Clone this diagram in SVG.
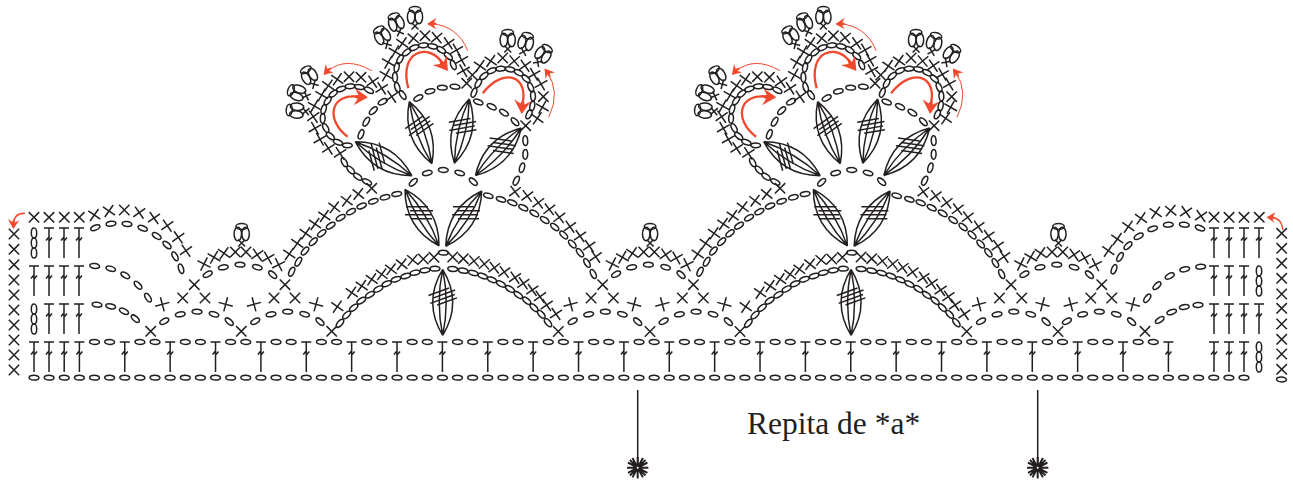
<svg xmlns="http://www.w3.org/2000/svg" width="1293" height="482" viewBox="0 0 1293 482">
<style>
.k{fill:none;stroke:#231f20;stroke-width:1.5;stroke-linecap:butt}
.r{fill:none;stroke:#f0492d;stroke-width:1}
.rt{fill:none;stroke:#f0492d;stroke-width:2.3}
.h{fill:#f0492d;stroke:none}
text{font-family:"Liberation Serif","Times New Roman",serif;font-size:31.5px;fill:#231f20}
</style>
<defs>
<ellipse id="o" rx="4.9" ry="2.4"/>
<path id="x" d="M-5.2-5.2L5.2 5.2M-5.2 5.2L5.2-5.2"/>
<path id="t" d="M-5 0H5M0 0V30M-3 12.5L-.5 9.5L.5 12.5L3 9.5"/>
<g id="v"><ellipse cy="5" rx="2.7" ry="5"/><ellipse cy="15" rx="2.7" ry="5"/><ellipse cy="25" rx="2.7" ry="5"/></g>
<g id="p"><ellipse cy="-6.5" rx="5.8" ry="3"/><ellipse cx="-3.9" cy="1" rx="3.7" ry="6.8"/><ellipse cx="3.9" cy="1" rx="3.7" ry="6.8"/><path d="M-3.5 6.5L3.5 13.5M3.5 6.5L-3.5 13.5"/></g>
<path id="leaf" d="M0 0Q33-20 66 0M0 0Q33-7 66 0M0 0Q33 7 66 0M0 0Q33 20 66 0"/>
<path id="hatch" d="M-13-6H9M-9-2H14M-14 2H12M-8 6H13"/>
<path id="hd" d="M0 0L9-5L6.5-1L10 1L6 1.5L8 5.5Z"/>
<g id="c3"><use href="#o"/><use href="#o" x="15.125"/><use href="#o" x="30.25"/></g>
<g id="c9"><use href="#c3"/><use href="#c3" x="45.375"/><use href="#c3" x="90.75"/></g>
<g id="u"><use href="#o" x="15.125"/><use href="#o" x="30.25"/><use href="#t" x="45.375"/></g>
<g id="u4"><use href="#u"/><use href="#u" x="45.375"/><use href="#u" x="90.75"/><use href="#u" x="136.125"/></g>
<g id="half">
<use href="#o" transform="translate(255.3 321.3) rotate(-30)"/><use href="#o" transform="translate(271 314.3) rotate(-12)"/><use href="#o" transform="translate(287.7 311.7)"/><use href="#o" transform="translate(304.7 314.3) rotate(15)"/><use href="#o" transform="translate(320 321.7) rotate(40)"/>
</g>
<g id="scallop">
<use href="#p" transform="translate(241.7 233)"/>
<use href="#x" transform="translate(204 264) rotate(-18)"/><use href="#x" transform="translate(214 257.3) rotate(-15)"/><use href="#x" transform="translate(224 253.3) rotate(-10)"/><use href="#x" x="235.3" y="252"/><use href="#x" x="246" y="252"/><use href="#x" transform="translate(257.3 254.7) rotate(10)"/><use href="#x" transform="translate(268 258) rotate(15)"/><use href="#x" transform="translate(278.7 264.7) rotate(18)"/>
<use href="#o" transform="translate(207.7 274.3) rotate(-30)"/><use href="#o" transform="translate(223.3 267.3) rotate(-12)"/><use href="#o" transform="translate(240 264.7)"/><use href="#o" transform="translate(257.3 267.3) rotate(15)"/><use href="#o" transform="translate(272.7 274.7) rotate(40)"/>
<use href="#x" x="194.3" y="284.7"/><use href="#x" x="285" y="284.7"/>
<use href="#x" x="182.7" y="298"/><use href="#x" x="205" y="298"/><use href="#x" x="274" y="298"/><use href="#x" x="295" y="298"/>
<use href="#x" transform="translate(162.3 304.3) rotate(30)"/><use href="#x" transform="translate(225.7 304.3) rotate(-30)"/><use href="#x" transform="translate(254 304.3) rotate(30)"/><use href="#x" transform="translate(316 304.3) rotate(-30)"/>
<use href="#o" transform="translate(164.3 321.3) rotate(-30)"/><use href="#o" transform="translate(180.3 314.3) rotate(-12)"/><use href="#o" transform="translate(197 311.7)"/><use href="#o" transform="translate(214 314.3) rotate(15)"/><use href="#o" transform="translate(229.3 321.7) rotate(40)"/>
</g>
<g id="flower">
<use href="#o" transform="translate(340 323.3) rotate(-50)"/><use href="#o" transform="translate(346.7 315) rotate(-45)"/><use href="#o" transform="translate(353.7 307.7) rotate(-40)"/><use href="#o" transform="translate(361.3 300.7) rotate(-35)"/><use href="#o" transform="translate(370 294.7) rotate(-32)"/><use href="#o" transform="translate(378.3 289) rotate(-28)"/><use href="#o" transform="translate(386.7 283.7) rotate(-25)"/><use href="#o" transform="translate(396 279.3) rotate(-20)"/><use href="#o" transform="translate(405.7 276) rotate(-18)"/><use href="#o" transform="translate(415 272.7) rotate(-14)"/><use href="#o" transform="translate(425 270.3) rotate(-8)"/><use href="#o" transform="translate(435 268.7) rotate(-3)"/>
<use href="#o" transform="translate(452.7 269) rotate(3)"/><use href="#o" transform="translate(463.3 270.7) rotate(10)"/><use href="#o" transform="translate(473.3 273) rotate(15)"/><use href="#o" transform="translate(482.7 276) rotate(18)"/><use href="#o" transform="translate(492 279.7) rotate(22)"/><use href="#o" transform="translate(501 284) rotate(26)"/><use href="#o" transform="translate(510 289) rotate(30)"/><use href="#o" transform="translate(518.3 295) rotate(35)"/><use href="#o" transform="translate(526.7 300.7) rotate(38)"/><use href="#o" transform="translate(534 307.7) rotate(42)"/><use href="#o" transform="translate(541.3 314.3) rotate(45)"/><use href="#o" transform="translate(548 322.7) rotate(48)"/>
<use href="#x" transform="translate(337.3 306.7) rotate(-10)"/><use href="#x" transform="translate(351.7 292.7) rotate(-10)"/><use href="#x" transform="translate(361.7 286) rotate(-10)"/><use href="#x" transform="translate(371.7 279.3) rotate(-10)"/><use href="#x" transform="translate(381.7 274.3) rotate(-8)"/><use href="#x" transform="translate(391 269.3) rotate(-8)"/><use href="#x" transform="translate(401.7 264.3) rotate(-6)"/><use href="#x" transform="translate(412.7 260) rotate(-5)"/><use href="#x" transform="translate(423.3 259)"/><use href="#x" transform="translate(434 257.3)"/>
<use href="#x" x="452.7" y="257"/><use href="#x" x="463.3" y="258.7"/><use href="#x" transform="translate(474 261) rotate(5)"/><use href="#x" transform="translate(484.3 264) rotate(5)"/><use href="#x" transform="translate(494.3 267.7) rotate(8)"/><use href="#x" transform="translate(504.3 272) rotate(8)"/><use href="#x" transform="translate(515 277.7) rotate(10)"/><use href="#x" transform="translate(523.3 283.3) rotate(10)"/><use href="#x" transform="translate(532.3 290) rotate(10)"/><use href="#x" transform="translate(540 296.7) rotate(10)"/><use href="#x" transform="translate(546.7 305) rotate(10)"/><use href="#x" transform="translate(556 314) rotate(10)"/>
<use href="#o" x="443.3" y="252.7"/>
<use href="#leaf" transform="translate(442.7 269.3) rotate(90)"/><use href="#hatch" transform="translate(442.7 296.7) rotate(-20)"/>
<use href="#leaf" transform="translate(405 189.3) rotate(59)"/><use href="#hatch" transform="translate(419 212.7)"/>
<use href="#leaf" transform="translate(481.7 191) rotate(123)"/><use href="#hatch" transform="translate(466 212.7)"/>
<use href="#o" transform="translate(291.7 271.7) rotate(-65)"/><use href="#o" transform="translate(298.3 261.7) rotate(-60)"/><use href="#o" transform="translate(305 251) rotate(-50)"/><use href="#o" transform="translate(313.3 241.7) rotate(-45)"/><use href="#o" transform="translate(321.7 233.3) rotate(-40)"/><use href="#o" transform="translate(330.7 225.7) rotate(-35)"/><use href="#o" transform="translate(340.7 217.7) rotate(-32)"/><use href="#o" transform="translate(351 211.7) rotate(-28)"/><use href="#o" transform="translate(361.7 206) rotate(-24)"/><use href="#o" transform="translate(373.3 201.3) rotate(-20)"/><use href="#o" transform="translate(385 197.3) rotate(-16)"/><use href="#o" transform="translate(396.7 194) rotate(-10)"/>
<use href="#x" transform="translate(289.3 254) rotate(-10)"/><use href="#x" transform="translate(297.3 243.3) rotate(-10)"/><use href="#x" transform="translate(305.7 233.3) rotate(-10)"/><use href="#x" transform="translate(315 224) rotate(-10)"/><use href="#x" transform="translate(324.3 216) rotate(-10)"/><use href="#x" transform="translate(334.3 207.3) rotate(-8)"/><use href="#x" transform="translate(346.7 200.7) rotate(-8)"/><use href="#x" transform="translate(358.3 194) rotate(-6)"/>
<use href="#o" transform="translate(488.3 195.7) rotate(15)"/><use href="#o" transform="translate(501 199.3) rotate(18)"/><use href="#o" transform="translate(512.3 202.7) rotate(22)"/><use href="#o" transform="translate(523.3 207.7) rotate(26)"/><use href="#o" transform="translate(534.3 213.3) rotate(30)"/><use href="#o" transform="translate(544.7 220) rotate(33)"/><use href="#o" transform="translate(554.7 227) rotate(38)"/><use href="#o" transform="translate(563.7 235) rotate(42)"/><use href="#o" transform="translate(572.3 244) rotate(46)"/><use href="#o" transform="translate(580 252.7) rotate(50)"/><use href="#o" transform="translate(587 263) rotate(58)"/><use href="#o" transform="translate(593.3 274) rotate(62)"/>
<use href="#x" transform="translate(515 191.7) rotate(8)"/><use href="#x" transform="translate(527.3 196) rotate(8)"/><use href="#x" transform="translate(538.3 202.7) rotate(8)"/><use href="#x" transform="translate(549.3 209.3) rotate(8)"/><use href="#x" transform="translate(559.3 217.3) rotate(8)"/><use href="#x" transform="translate(570 226.7) rotate(10)"/><use href="#x" transform="translate(580 236) rotate(10)"/><use href="#x" transform="translate(589.3 246) rotate(10)"/><use href="#x" transform="translate(595.7 256.7) rotate(10)"/>
<use href="#o" transform="translate(413.3 182.3) rotate(-45)"/><use href="#o" transform="translate(427.3 173) rotate(-15)"/><use href="#o" transform="translate(443.3 170)"/><use href="#o" transform="translate(459.7 173) rotate(15)"/><use href="#o" transform="translate(473.3 181.7) rotate(40)"/>
<use href="#leaf" transform="translate(355.3 141.7) rotate(31)"/><use href="#hatch" transform="translate(376.7 156.7) rotate(75)"/>
<use href="#leaf" transform="translate(409.3 101.7) rotate(70)"/><use href="#hatch" transform="translate(419.3 126) rotate(-35)"/>
<use href="#leaf" transform="translate(469.3 99) rotate(103)"/><use href="#hatch" transform="translate(462.7 126) rotate(-10)"/>
<use href="#leaf" transform="translate(521.3 128) rotate(134)"/><use href="#hatch" transform="translate(501.7 145.7) rotate(8)"/>
<use href="#o" transform="translate(344.3 162.3) rotate(60)"/><use href="#o" transform="translate(350.7 170) rotate(45)"/><use href="#o" transform="translate(357.7 176.7) rotate(35)"/><use href="#o" transform="translate(367 182) rotate(25)"/><use href="#x" x="371.7" y="188.3"/>
<use href="#o" transform="translate(361 134.3) rotate(-70)"/><use href="#o" transform="translate(366.3 121.7) rotate(-60)"/><use href="#o" transform="translate(373.3 110.7) rotate(-45)"/><use href="#o" transform="translate(382.7 101.7) rotate(-30)"/>
<use href="#o" transform="translate(418.3 98) rotate(-30)"/><use href="#o" transform="translate(430 91.3) rotate(-15)"/><use href="#o" transform="translate(442.3 87.7)"/><use href="#o" transform="translate(455 86.7) rotate(5)"/>
<use href="#o" transform="translate(478.3 102) rotate(20)"/><use href="#o" transform="translate(491.7 106.7) rotate(25)"/><use href="#o" transform="translate(504 112.7) rotate(30)"/><use href="#o" transform="translate(515 121.7) rotate(45)"/>
<use href="#o" transform="translate(525.3 140.7) rotate(85)"/><use href="#o" transform="translate(525.3 154.3) rotate(90)"/><use href="#o" transform="translate(522 167.7) rotate(105)"/><use href="#o" transform="translate(516.3 180.7) rotate(115)"/><use href="#x" x="525.7" y="125.7"/>
<use href="#o" transform="translate(347.3 145.3)"/><use href="#o" transform="translate(338 142.3) rotate(20)"/><use href="#o" transform="translate(330.3 136) rotate(40)"/><use href="#o" transform="translate(325.7 128) rotate(60)"/><use href="#o" transform="translate(322.7 118.3) rotate(90)"/><use href="#o" transform="translate(323.7 109.3) rotate(-75)"/><use href="#o" transform="translate(327.7 100.7) rotate(-55)"/><use href="#o" transform="translate(333.3 93.7) rotate(-40)"/><use href="#o" transform="translate(341 89) rotate(-20)"/><use href="#o" transform="translate(350 86.3) rotate(-5)"/><use href="#o" transform="translate(359.3 87) rotate(10)"/><use href="#o" transform="translate(369 90.3) rotate(25)"/>
<use href="#x" transform="translate(340 153.3) rotate(12)"/><use href="#x" transform="translate(328.3 148.3) rotate(12)"/><use href="#x" transform="translate(320 139.3) rotate(15)"/><use href="#x" transform="translate(315 128.3) rotate(15)"/><use href="#x" transform="translate(313.3 116.7) rotate(10)"/><use href="#x" transform="translate(314.3 106) rotate(-15)"/><use href="#x" transform="translate(321.7 95) rotate(-15)"/><use href="#x" transform="translate(328.3 85.7) rotate(-10)"/><use href="#x" transform="translate(337.3 79.3) rotate(-10)"/><use href="#x" x="349" y="76.7"/><use href="#x" x="361" y="77.3"/><use href="#x" transform="translate(372.7 81.7) rotate(10)"/><use href="#x" transform="translate(381.7 88.3) rotate(12)"/><use href="#x" transform="translate(391.7 96.7) rotate(10)"/>
<use href="#p" transform="translate(295.7 110.5) rotate(-85)"/><use href="#p" transform="translate(297 92.5) rotate(-70)"/><use href="#p" transform="translate(309 75.5) rotate(-30)"/>
<use href="#o" transform="translate(402.7 95) rotate(55)"/><use href="#o" transform="translate(397.3 87.3) rotate(70)"/><use href="#o" transform="translate(395 77.3) rotate(85)"/><use href="#o" transform="translate(396.7 67.3) rotate(-80)"/><use href="#o" transform="translate(400 59.3) rotate(-60)"/><use href="#o" transform="translate(406.7 52.3) rotate(-40)"/><use href="#o" transform="translate(414 47.7) rotate(-25)"/><use href="#o" transform="translate(423.3 45.3) rotate(-5)"/><use href="#o" transform="translate(432.7 46.3) rotate(10)"/><use href="#o" transform="translate(441.3 50) rotate(30)"/><use href="#o" transform="translate(448.3 56) rotate(40)"/><use href="#o" transform="translate(453.3 65) rotate(65)"/>
<use href="#x" transform="translate(386 75) rotate(-15)"/><use href="#x" transform="translate(388.3 62.3) rotate(-15)"/><use href="#x" transform="translate(395 51.7) rotate(-15)"/><use href="#x" transform="translate(402.3 43.3) rotate(-10)"/><use href="#x" transform="translate(413.3 38.3) rotate(-5)"/><use href="#x" x="425" y="35.7"/><use href="#x" transform="translate(436.7 37.7) rotate(5)"/><use href="#x" transform="translate(448.3 43.3) rotate(10)"/><use href="#x" transform="translate(456.7 50) rotate(15)"/><use href="#x" transform="translate(461.7 60) rotate(15)"/><use href="#x" transform="translate(463.3 70.7) rotate(15)"/><use href="#x" x="472.3" y="75"/><use href="#x" x="466.7" y="83.3"/>
<use href="#p" transform="translate(382 35.5) rotate(-30)"/><use href="#p" transform="translate(396 22.5) rotate(-20)"/><use href="#p" transform="translate(415 16)"/>
<use href="#o" transform="translate(474 92.7) rotate(-70)"/><use href="#o" transform="translate(478.3 83.3) rotate(-60)"/><use href="#o" transform="translate(484 76) rotate(-40)"/><use href="#o" transform="translate(491.7 70.7) rotate(-25)"/><use href="#o" transform="translate(500.7 68.7) rotate(-5)"/><use href="#o" transform="translate(510 69.3) rotate(10)"/><use href="#o" transform="translate(518.7 72.7) rotate(25)"/><use href="#o" transform="translate(526 78.7) rotate(40)"/><use href="#o" transform="translate(530.7 87.3) rotate(65)"/><use href="#o" transform="translate(533 96) rotate(85)"/><use href="#o" transform="translate(532.3 106) rotate(100)"/><use href="#o" transform="translate(529 114.3) rotate(115)"/>
<use href="#x" transform="translate(480 66) rotate(-10)"/><use href="#x" transform="translate(490.7 61) rotate(-10)"/><use href="#x" x="502.7" y="58"/><use href="#x" transform="translate(514.3 61) rotate(5)"/><use href="#x" transform="translate(525 65.7) rotate(10)"/><use href="#x" transform="translate(534 74.3) rotate(15)"/><use href="#x" transform="translate(541 84) rotate(15)"/><use href="#x" x="543.3" y="96.7"/><use href="#x" transform="translate(542.3 107.3) rotate(-15)"/><use href="#x" transform="translate(537.3 118.3) rotate(-10)"/>
<use href="#p" transform="translate(507.7 39)"/><use href="#p" transform="translate(526 42) rotate(15)"/><use href="#p" transform="translate(543.5 54) rotate(35)"/>
</g>
<g id="arrows">
<path class="r" d="M371.7 70.7Q346 56 328 71"/><use class="h" href="#hd" transform="translate(323.5 75) rotate(-50) scale(1.1)"/>
<path class="r" d="M467.7 50.7Q458 26 431 23.5"/><use class="h" href="#hd" transform="translate(427 24) rotate(-5) scale(1.1)"/>
<path class="r" d="M548.7 117.3Q561 92 547 72"/><use class="h" href="#hd" transform="translate(544.5 68.5) rotate(50) scale(1.1)"/>
<path class="rt" d="M347.7 136.7C325 120 330 92 360 97"/><use class="h" href="#hd" transform="translate(368 97.3) rotate(180) scale(1.6)"/>
<path class="rt" d="M408.3 88.3C398 50 430 42 443 64"/><use class="h" href="#hd" transform="translate(448 71) rotate(230) scale(1.6)"/>
<path class="rt" d="M482.7 93.3C505 65 530 78 522 105"/><use class="h" href="#hd" transform="translate(521.7 114) rotate(272) scale(1.6)"/>
</g>
</defs>
<g id="foundation-chain" class="k">
<g transform="translate(0 377.7)"><use href="#c9" x="34"/><use href="#c9" x="170.125"/><use href="#c9" x="306.25"/><use href="#c9" x="442.375"/><use href="#c9" x="578.5"/><use href="#c9" x="714.625"/><use href="#c9" x="850.75"/><use href="#c9" x="986.875"/><use href="#c9" x="1123"/></g>
<use href="#o" x="1281.5" y="379.5"/>
</g>
<g id="stitch-row" class="k">
<g transform="translate(0 342)"><use href="#t" x="34"/><use href="#t" x="49"/><use href="#t" x="64.2"/><use href="#t" x="79.4"/>
<use href="#u4" x="79.4"/><use href="#u4" x="260.9"/><use href="#u4" x="442.4"/><use href="#u4" x="623.9"/><use href="#u4" x="805.4"/><use href="#u4" x="986.9"/>
<use href="#t" x="1214"/><use href="#t" x="1229"/><use href="#t" x="1244"/><use href="#v" x="1259"/></g>
</g>
<g id="left-edge" class="k">
<use href="#t" x="49" y="228"/><use href="#t" x="64" y="228"/><use href="#t" x="79" y="228"/><use href="#v" x="34" y="228"/>
<use href="#t" x="34" y="266"/><use href="#t" x="49" y="266"/><use href="#t" x="64" y="266"/><use href="#t" x="79" y="266"/>
<use href="#v" x="34" y="304"/><use href="#t" x="49" y="304"/><use href="#t" x="64" y="304"/><use href="#t" x="79" y="304"/>
<use href="#x" x="34" y="217.3"/><use href="#x" x="49" y="217.3"/><use href="#x" x="64.3" y="217.3"/><use href="#x" x="79.3" y="217.3"/>
<use href="#x" x="14" y="234"/><use href="#x" x="14" y="249.3"/><use href="#x" x="14" y="264.7"/><use href="#x" x="14" y="280"/><use href="#x" x="14" y="295"/><use href="#x" x="14" y="310"/><use href="#x" x="14" y="325"/><use href="#x" x="14" y="340"/><use href="#x" x="14" y="355"/><use href="#x" x="14" y="370"/>
<use href="#o" transform="translate(95.3 227.7) rotate(-25)"/><use href="#o" transform="translate(111 223.7) rotate(-10)"/><use href="#o" transform="translate(127 224) rotate(5)"/><use href="#o" transform="translate(142.7 228.3) rotate(20)"/><use href="#o" transform="translate(156.7 236) rotate(30)"/><use href="#o" transform="translate(167 245) rotate(40)"/><use href="#o" transform="translate(175 256.3) rotate(60)"/><use href="#o" transform="translate(181 268.7) rotate(70)"/>
<use href="#x" transform="translate(94.3 215) rotate(-10)"/><use href="#x" transform="translate(109 211) rotate(-10)"/><use href="#x" transform="translate(124.3 210)"/><use href="#x" transform="translate(139.3 212.7) rotate(10)"/><use href="#x" transform="translate(154 218) rotate(10)"/><use href="#x" transform="translate(167.3 225.7) rotate(10)"/><use href="#x" transform="translate(178.3 237.3) rotate(10)"/><use href="#x" transform="translate(186 250.7) rotate(10)"/>
<use href="#o" transform="translate(94.7 266) rotate(5)"/><use href="#o" transform="translate(110.7 268.7) rotate(15)"/><use href="#o" transform="translate(125.3 275.3) rotate(30)"/><use href="#o" transform="translate(138 285.3) rotate(45)"/><use href="#o" transform="translate(148 297.7) rotate(55)"/>
<use href="#o" transform="translate(97 304.7) rotate(5)"/><use href="#o" transform="translate(110.7 306.3) rotate(10)"/><use href="#o" transform="translate(124 311.3) rotate(25)"/><use href="#o" transform="translate(135.3 318.7) rotate(40)"/>
</g>
<g id="right-edge" class="k">
<use href="#t" x="1214" y="228"/><use href="#t" x="1229" y="228"/><use href="#t" x="1244" y="228"/><use href="#t" x="1259" y="228"/>
<use href="#t" x="1214" y="266"/><use href="#t" x="1229" y="266"/><use href="#t" x="1244" y="266"/><use href="#v" x="1259" y="266"/>
<use href="#t" x="1214" y="304"/><use href="#t" x="1229" y="304"/><use href="#t" x="1244" y="304"/><use href="#t" x="1259" y="304"/>
<use href="#x" x="1214" y="217.3"/><use href="#x" x="1229" y="217.3"/><use href="#x" x="1244" y="217.3"/><use href="#x" x="1259.3" y="217.3"/>
<use href="#x" x="1281.7" y="233.3"/><use href="#x" x="1281.7" y="248.3"/><use href="#x" x="1281.7" y="263.3"/><use href="#x" x="1281.7" y="278.3"/><use href="#x" x="1281.7" y="294"/><use href="#x" x="1281.7" y="308.3"/><use href="#x" x="1281.7" y="324"/><use href="#x" x="1281.7" y="339.3"/><use href="#x" x="1281.7" y="354"/><use href="#x" x="1281.7" y="369.3"/>
<use href="#o" transform="translate(1114 269.3) rotate(-70)"/><use href="#o" transform="translate(1120 257) rotate(-60)"/><use href="#o" transform="translate(1128 245.7) rotate(-45)"/><use href="#o" transform="translate(1138.7 236.3) rotate(-30)"/><use href="#o" transform="translate(1152.7 228.7) rotate(-20)"/><use href="#o" transform="translate(1168.3 224.7) rotate(-5)"/><use href="#o" transform="translate(1184.3 224.7) rotate(5)"/><use href="#o" transform="translate(1200 228) rotate(20)"/>
<use href="#x" transform="translate(1108.3 250.7) rotate(-10)"/><use href="#x" transform="translate(1117.3 239) rotate(-10)"/><use href="#x" transform="translate(1128.3 226.7) rotate(-10)"/><use href="#x" transform="translate(1141 218.3) rotate(-10)"/><use href="#x" transform="translate(1155.7 212.7) rotate(-10)"/><use href="#x" transform="translate(1170.7 210.7) rotate(-5)"/><use href="#x" transform="translate(1186 212) rotate(10)"/><use href="#x" transform="translate(1201 216) rotate(10)"/>
<use href="#o" transform="translate(1147.3 298.3) rotate(-55)"/><use href="#o" transform="translate(1157 285.7) rotate(-45)"/><use href="#o" transform="translate(1169.7 276) rotate(-30)"/><use href="#o" transform="translate(1184.7 269.3) rotate(-15)"/><use href="#o" transform="translate(1200.7 266.7) rotate(-5)"/>
<use href="#o" transform="translate(1159.7 320) rotate(-35)"/><use href="#o" transform="translate(1171.7 312) rotate(-20)"/><use href="#o" transform="translate(1184.3 307) rotate(-10)"/><use href="#o" transform="translate(1198 305) rotate(-5)"/>
</g>
<g id="feet" class="k">
<use href="#x" x="150.7" y="331.3"/><use href="#x" x="241.3" y="331.3"/><use href="#x" x="331.7" y="331.3"/><use href="#x" x="558.3" y="331.5"/><use href="#x" x="650" y="331.5"/><use href="#x" x="740" y="331.5"/><use href="#x" x="966.7" y="331.5"/><use href="#x" x="1058" y="331.5"/><use href="#x" x="1145" y="331.3"/>
</g>
<g id="scallop-1" class="k"><use href="#scallop"/><use href="#half"/></g>
<g id="scallop-2" class="k"><use href="#scallop" x="408.375"/><use href="#half" x="408.375"/></g>
<g id="scallop-3" class="k"><use href="#scallop" x="816.75"/><use href="#half" x="811.6"/></g>
<g id="flower-1" class="k"><use href="#flower"/></g>
<g id="flower-2" class="k"><use href="#flower" x="408.375"/></g>
<g id="red-arrows"><use href="#arrows"/><use href="#arrows" x="408.375"/>
<path class="r" style="stroke-width:1.4" d="M25 213.3Q14 213 13.5 224"/><use class="h" href="#hd" transform="translate(13.3 229) rotate(270) scale(1.1)"/>
<path class="r" style="stroke-width:1.4" d="M1282.7 230Q1282 218 1271 217.5"/><use class="h" href="#hd" transform="translate(1266.5 217.3)"/>
</g>
<g id="repeat-marks" class="k">
<path d="M637.7 390V467M1037.7 390V467"/>
<g style="stroke-width:2"><path id="star" d="M627 467.7H648.4M637.7 457V478.4M629.9 459.9L645.5 475.5M645.5 459.9L629.9 475.5M628 462.5L647.4 472.9M647.4 462.5L628 472.9M632.5 458L642.9 477.4M642.9 458L632.5 477.4"/><use href="#star" x="400"/></g>
<circle cx="637.7" cy="467.7" r="1" fill="#fff" stroke="none"/><circle cx="1037.7" cy="467.7" r="1" fill="#fff" stroke="none"/>
</g>
<text id="label" x="747" y="434">Repita de *a*</text>
</svg>
